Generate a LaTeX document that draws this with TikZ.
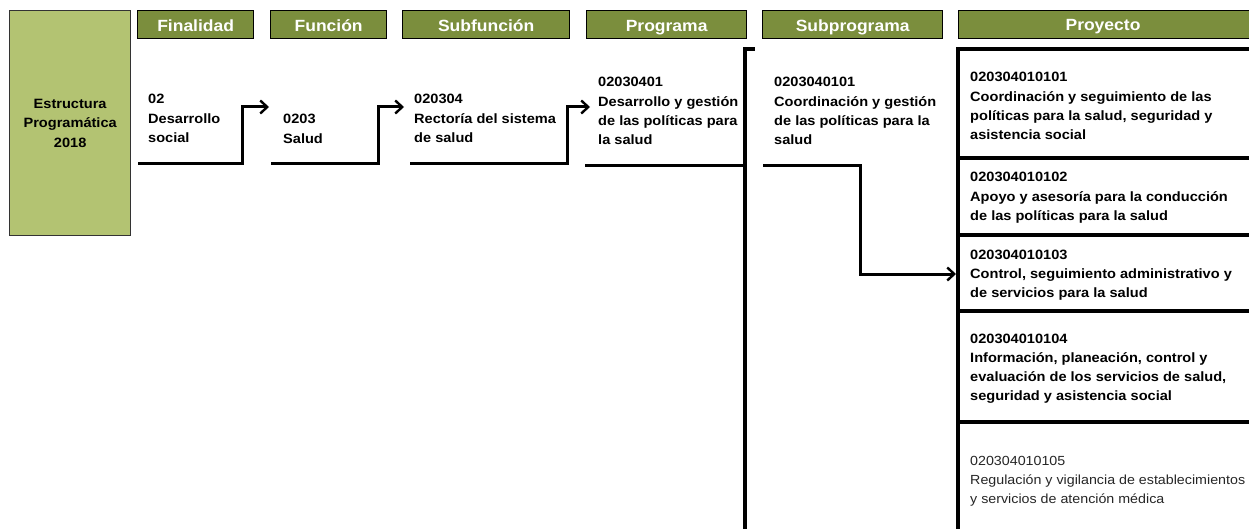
\documentclass[tikz,border=0pt]{standalone}
\usepackage{fontspec}
\setmainfont{Liberation Sans}[FakeStretch=1.08]
\usetikzlibrary{arrows.meta}
\definecolor{hdr}{HTML}{7B8E3D}
\definecolor{lbox}{HTML}{B3C372}
\begin{document}
\begin{tikzpicture}[x=1pt,y=-1pt,
 hdrbox/.style={draw=black, line width=1.3pt, fill=hdr, text=white, anchor=north west, minimum height=28pt, inner sep=0pt, text height=13pt, text depth=0pt, font=\fontsize{16.2}{18}\selectfont\bfseries},
 body/.style={anchor=base west, align=left, inner sep=0pt, font=\fontsize{13.5}{19.3}\selectfont\bfseries},
 bodylight/.style={anchor=base west, align=left, inner sep=0pt, text=black!85, font=\fontsize{13.2}{19.3}\selectfont},
 conn/.style={line width=3pt},
 arr/.style={conn, -{Straight Barb[length=7pt,width=13pt,line width=2.4pt]}}
]
\useasboundingbox (0,0) rectangle (1249,529);

% left box
\node[draw=black!80, line width=1.3pt, fill=lbox, anchor=north west, minimum width=121pt, minimum height=225pt, inner sep=0pt, align=center, font=\fontsize{13.5}{19.3}\selectfont\bfseries] (title) at (9,10) {Estructura\\Programática\\2018};

% headers
\node[hdrbox, minimum width=116pt] (hFin) at (137,10) {Finalidad};
\node[hdrbox, minimum width=116pt] (hFun) at (270,10) {Función};
\node[hdrbox, minimum width=167pt] (hSubf) at (402,10) {Subfunción};
\node[hdrbox, minimum width=160pt] (hProg) at (586,10) {Programa};
\node[hdrbox, minimum width=180pt] (hSubp) at (762,10) {Subprograma};
\node[hdrbox, minimum width=300pt, anchor=north west] (hProy) at (958,10) {};
\node[text=white, inner sep=0pt, anchor=base, font=\fontsize{16.2}{18}\selectfont\bfseries] (hProyT) at (1103,30.5) {Proyecto};

% column texts (positions = baseline of last line)
\node[body] (tFin) at (148,142.6) {02\\Desarrollo\\social};
\node[body] (tFun) at (283,143.3) {0203\\Salud};
\node[body] (tSubf) at (414,142.6) {020304\\Rectoría del sistema\\de salud};
\node[body] (tProg) at (598,144.9) {02030401\\Desarrollo y gestión\\de las políticas para\\la salud};
\node[body] (tSubp) at (774,144.9) {0203040101\\Coordinación y gestión\\de las políticas para la\\salud};

\node[body] (p1) at (970,139.9) {020304010101\\Coordinación y seguimiento de las\\políticas para la salud, seguridad y\\asistencia social};
\node[body] (p2) at (970,220.6) {020304010102\\Apoyo y asesoría para la conducción\\de las políticas para la salud};
\node[body] (p3) at (970,297.6) {020304010103\\Control, seguimiento administrativo y\\de servicios para la salud};
\node[body] (p4) at (970,400.9) {020304010104\\Información, planeación, control y\\evaluación de los servicios de salud,\\seguridad y asistencia social};
\node[bodylight] (p5) at (970,503.6) {020304010105\\Regulación y vigilancia de establecimientos\\y servicios de atención médica};

% connector coordinates
\coordinate (f1) at (138,164); \coordinate (f2) at (242,164); \coordinate (fe) at (269,107);
\coordinate (u1) at (271,164); \coordinate (u2) at (378,164); \coordinate (ue) at (404,107);
\coordinate (s1) at (410,164); \coordinate (s2) at (567,164); \coordinate (se) at (590,107);
\coordinate (g1) at (585,166); \coordinate (g2) at (745,166);
\coordinate (vt) at (745,49); \coordinate (vb) at (745,529); \coordinate (vk) at (755,49);
\coordinate (b1) at (763,166); \coordinate (b2) at (860,166); \coordinate (be) at (956,274);
\coordinate (pt) at (958,49); \coordinate (pb) at (958,529); \coordinate (pr) at (1249,49);

\draw[arr] (f1) -- (f2) |- (fe);
\draw[arr] (u1) -- (u2) |- (ue);
\draw[arr] (s1) -- (s2) |- (se);
\draw[conn] (g1) -- (g2);
\draw[line width=3.5pt] (vb) -- (vt) -- (vk);
\draw[arr] (b1) -- (b2) |- (be);

% proyecto frame
\draw[line width=3.5pt] (pb) -- (pt) -- (pr);
\foreach \yy/\nm in {158/a,235/b,311/c,422/d}{
  \coordinate (sl\nm) at (958,\yy); \coordinate (sr\nm) at (1249,\yy);
  \draw[line width=3.5pt] (sl\nm) -- (sr\nm);
}
\end{tikzpicture}
\end{document}
